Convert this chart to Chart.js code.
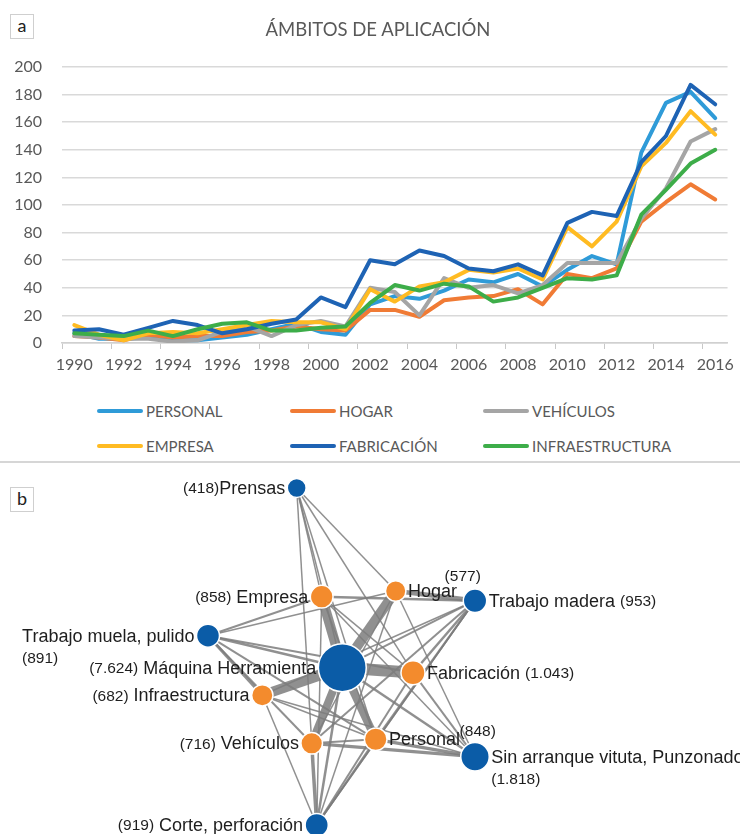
<!DOCTYPE html>
<html>
<head>
<meta charset="utf-8">
<script src="https://cdn.jsdelivr.net/npm/chart.js@4.4.1/dist/chart.umd.min.js"></script>
<style>
  body { margin: 0; background: #fff; }
  #page { position: relative; width: 740px; height: 834px; overflow: hidden; font-family: Lato, sans-serif; }
  .tag { position: absolute; left: 10px; width: 22px; height: 23px; border: 1px solid #cfcfcf; background: #fff;
         font: 18px Lato, sans-serif; color: #222; text-align: center; line-height: 21px; }
  #title { position: absolute; left: 0; top: 18px; width: 756px; line-height: 20px; text-align: center;
           font: 18.5px Lato, sans-serif; color: #595959; }
  #chartA { position: absolute; left: 0; top: 0; }
  .item { position: absolute; display: flex; align-items: center; height: 20px; font: 15px Lato, sans-serif; color: #595959; }
  .item .sw { display: inline-block; width: 46px; height: 4px; border-radius: 2px; margin-right: 3px; }
  .sep { position: absolute; left: 0; top: 461px; width: 740px; height: 2px; background: #d6d6d6; }
  #chartB { position: absolute; left: 0; top: 465px; }
</style>
</head>
<body>
<div id="page">
  <canvas id="chartA" width="740" height="385"></canvas>
  <div id="title">ÁMBITOS DE APLICACIÓN</div>
  <div class="tag" style="top:14px">a</div>
  <div id="legend"></div>
  <div class="sep"></div>
  <canvas id="chartB" width="740" height="369"></canvas>
  <div class="tag" style="top:487px">b</div>
</div>
<script>
// ---- datos (a) ----
const years = ['1990','1991','1992','1993','1994','1995','1996','1997','1998','1999','2000','2001','2002',
  '2003','2004','2005','2006','2007','2008','2009','2010','2011','2012','2013','2014','2015','2016'];
const personal = [7,3,3,4,2,2,4,6,10,14,8,6,28,34,32,38,46,44,50,41,53,63,57,138,174,182,163];
const hogar = [5,4,2,6,4,5,5,8,9,12,10,9,24,24,19,31,33,34,39,28,50,47,54,88,102,115,104];
const vehiculos = [5,4,3,3,1,2,8,12,5,13,16,12,40,37,20,47,40,42,36,42,58,58,58,90,112,146,155];
const empresa = [13,6,2,7,8,7,10,13,16,15,15,10,39,30,41,44,53,51,54,46,84,70,88,128,145,168,151];
const fabricacion = [9,10,6,11,16,13,7,10,14,17,33,26,60,57,67,63,54,52,57,49,87,95,92,131,150,187,173];
const infraestructura = [7,6,5,9,5,10,14,15,9,9,11,12,29,42,38,43,41,30,33,40,47,46,49,93,111,130,140];
const seriesNames = ['PERSONAL','HOGAR','VEHÍCULOS','EMPRESA','FABRICACIÓN','INFRAESTRUCTURA'];
const seriesValues = [personal, hogar, vehiculos, empresa, fabricacion, infraestructura];
const yMin = 0, yMax = 200, yStep = 20;

// ---- datos (b) ----
const nodeNames = ['Prensas','Empresa','Hogar','Trabajo madera','Trabajo muela, pulido','Máquina Herramienta',
  'Fabricación','Infraestructura','Vehículos','Personal','Sin arranque vituta, Punzonado','Corte, perforación'];
const nodeCounts = [418,858,577,953,891,7624,1043,682,716,848,1818,919];
const nodeGroup = ['maquina','ambito','ambito','maquina','maquina','maquina','ambito','ambito','ambito','ambito','maquina','maquina'];
// posiciones del grafo (coordenadas del layout)
const nodeX = [296.7,321.7,395.7,475,208,342.3,413,262.3,311.7,375.7,475,316.7];
const nodeY = [488,596.7,591,600.7,635.7,667.7,672.7,695.3,743.3,739.3,756.7,825];
// aristas: origen, destino, peso
const edgeFrom   = [5,5,5,5,5,5, 5,5,5,5,5, 3,3,3,3,3,3,3, 4,4,4,4,4,4, 10,10,10,10,10,10, 11,11,11,11,11,11,11, 0,0,0,0,0, 1,1,2,7,8];
const edgeTo     = [1,2,6,7,8,9, 0,3,4,10,11, 2,1,6,9,8,7,11, 1,2,7,8,9,6, 8,9,6,7,1,2, 8,9,6,7,1,2,3, 1,2,6,8,9, 6,9,8,9,9];
const edgeWeight = [360,360,430,360,280,280, 20,40,60,60,60, 150,60,60,40,40,20,20, 40,20,80,40,40,40, 90,90,40,20,20,20, 100,40,40,20,20,20,20, 20,20,20,20,20, 20,20,20,20,40];

// ---- estilos ----
const colors = ['#2f9bd8','#f07b35','#a5a5a5','#ffbb22','#1e63b4','#3dad49'];
const groupColor = { maquina: '#0b5ca7', ambito: '#f38b2d' };
const legendCols = [97, 290, 483];
const legendRows = [401, 436];
const textColor = '#595959';

// gráfico de líneas
const chartA = new Chart(document.getElementById('chartA'), {
  type: 'line',
  data: {
    labels: years,
    datasets: seriesNames.map((name, i) => ({
      label: name,
      data: seriesValues[i],
      borderColor: colors[i],
      backgroundColor: colors[i],
      borderWidth: 4,
      pointRadius: 0,
      tension: 0,
      borderJoinStyle: 'round',
      borderCapStyle: 'round',
      order: seriesNames.length - i
    }))
  },
  options: {
    responsive: false,
    animation: false,
    devicePixelRatio: 1,
    events: [],
    layout: { autoPadding: false, padding: { left: 0, right: 11, top: 67, bottom: 0 } },
    plugins: {
      legend: { display: false },
      tooltip: { enabled: false }
    },
    scales: {
      x: {
        offset: true,
        grid: {
          offset: true,
          drawOnChartArea: false,
          tickLength: 6,
          color: ctx => ctx.index % 2 === 0 ? '#c8c8c8' : 'rgba(0,0,0,0)'
        },
        border: { color: '#d0d0d0', width: 1.5 },
        ticks: {
          autoSkip: false,
          maxRotation: 0,
          color: textColor,
          font: { family: 'Lato', size: 16 },
          padding: 6,
          callback: function (v, i) { return i % 2 === 0 ? this.getLabelForValue(v) : ''; }
        },
        afterFit: s => { s.height = 42; }
      },
      y: {
        min: yMin,
        max: yMax,
        ticks: { stepSize: yStep, color: textColor, font: { family: 'Lato', size: 16 }, padding: 20 },
        grid: { color: '#d9d9d9', lineWidth: 1.5, drawTicks: false },
        border: { display: false },
        afterFit: s => { s.width = 62; }
      }
    }
  }
});

// leyenda en dos filas
const legendEl = document.getElementById('legend');
seriesNames.forEach((name, i) => {
  const item = document.createElement('div');
  item.className = 'item';
  item.style.left = legendCols[i % 3] + 'px';
  item.style.top = legendRows[Math.floor(i / 3)] + 'px';
  const sw = document.createElement('span');
  sw.className = 'sw';
  sw.style.background = colors[i];
  item.appendChild(sw);
  item.appendChild(document.createTextNode(name));
  legendEl.appendChild(item);
});

// ---- red (b) ----
function fmt(n) {
  return '(' + String(n).replace(/\B(?=(\d{3})+(?!\d))/g, '.') + ')';
}
function radius(n) {
  return 5 + 0.217 * Math.sqrt(n);
}

// donde va cada etiqueta respecto a su nodo
const labelPlace = [
  { side: 'left', count: 'before', sep: 0 },
  { side: 'left', count: 'before', sep: 5 },
  { side: 'right', count: 'free', dx: 67, dy: -15 },
  { side: 'right', count: 'after', sep: 5 },
  { side: 'left', count: 'below' },
  { side: 'left', count: 'before', sep: 5 },
  { side: 'right', count: 'after', sep: 5 },
  { side: 'left', count: 'before', sep: 5 },
  { side: 'left', count: 'before', sep: 5 },
  { side: 'right', count: 'free', dx: 102, dy: -9 },
  { side: 'right', count: 'below' },
  { side: 'left', count: 'before', sep: 5 }
];
const nameFont = '18px "Liberation Sans", Arial, sans-serif';
const countFont = '15.5px "Liberation Sans", Arial, sans-serif';

const nodeLabels = {
  id: 'nodeLabels',
  afterDatasetsDraw(chart) {
    const ctx = chart.ctx;
    const xs = chart.scales.x, ys = chart.scales.y;
    ctx.save();
    ctx.fillStyle = '#1e1e1e';
    ctx.textBaseline = 'middle';
    for (let i = 0; i < nodeNames.length; i++) {
      const px = xs.getPixelForValue(nodeX[i]);
      const py = ys.getPixelForValue(nodeY[i]) + 1;
      const r = radius(nodeCounts[i]) + 2;
      const p = labelPlace[i];
      ctx.font = nameFont;
      const nw = ctx.measureText(nodeNames[i]).width;
      const nameX = p.side === 'left' ? px - r - nw : px + r;
      ctx.textAlign = 'left';
      ctx.fillText(nodeNames[i], nameX, py);
      ctx.font = countFont;
      const c = fmt(nodeCounts[i]);
      const cw = ctx.measureText(c).width;
      if (p.count === 'before') {
        ctx.fillText(c, nameX - p.sep - cw, py);
      } else if (p.count === 'after') {
        ctx.fillText(c, nameX + nw + p.sep, py);
      } else if (p.count === 'below') {
        ctx.fillText(c, nameX, py + 22);
      } else {
        ctx.textAlign = 'center';
        ctx.fillText(c, px + p.dx, py + p.dy);
      }
    }
    ctx.restore();
  }
};

const edgeSets = edgeFrom.map((a, k) => ({
  type: 'line',
  data: [{ x: nodeX[a], y: nodeY[a] }, { x: nodeX[edgeTo[k]], y: nodeY[edgeTo[k]] }],
  borderColor: 'rgba(125,125,125,0.85)',
  borderWidth: 1 + edgeWeight[k] / 40,
  pointRadius: 0,
  order: 1,
  clip: false
}));

const chartB = new Chart(document.getElementById('chartB'), {
  type: 'bubble',
  data: {
    datasets: [
      {
        type: 'bubble',
        data: nodeX.map((x, i) => ({ x: x, y: nodeY[i], r: radius(nodeCounts[i]) })),
        backgroundColor: nodeGroup.map(g => groupColor[g]),
        borderColor: '#ffffff',
        borderWidth: 1.5,
        order: 0,
        clip: false
      }
    ].concat(edgeSets)
  },
  options: {
    responsive: false,
    animation: false,
    devicePixelRatio: 1,
    events: [],
    layout: { autoPadding: false, padding: 0 },
    plugins: { legend: { display: false }, tooltip: { enabled: false } },
    scales: {
      x: { type: 'linear', min: 0, max: 740, display: false },
      y: { type: 'linear', min: 465, max: 834, reverse: true, display: false }
    }
  },
  plugins: [nodeLabels]
});
</script>
</body>
</html>
